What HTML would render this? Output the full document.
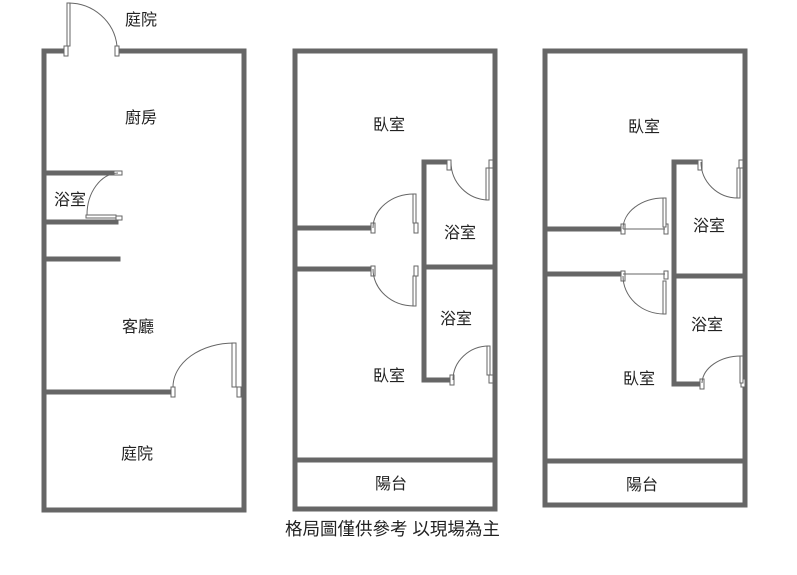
<!DOCTYPE html>
<html><head><meta charset="utf-8"><style>
html,body{margin:0;padding:0;background:#fff;}
svg{display:block}
text{font-family:"Liberation Sans","Noto Sans CJK TC",sans-serif;font-size:16px;fill:#222;}
</style></head><body>
<svg width="797" height="575" viewBox="0 0 797 575" xmlns="http://www.w3.org/2000/svg">
<g stroke="#666" stroke-width="5" fill="none" stroke-linecap="square">
<path d="M44 51 H63 M120 51 H244 V510 H44 V51"/>
<path d="M44 173 H113 M44 222 H116 M44 259 H118 M44 392 H168"/>
<path d="M295 51 H495 V509 H295 Z M295 460 H495"/>
<path d="M295 228 H370 M295 269 H370"/>
<path d="M446 162 H424 V380 H449 M424 267 H495"/>
<path d="M545 51 H745 V505 H545 Z M545 461 H745"/>
<path d="M545 229 H620 M545 274 H620"/>
<path d="M697 162 H674 V384 H698 M674 276 H745"/>
</g>
<g stroke="#666" stroke-width="1" fill="#fff">
<rect x="64" y="46" width="4" height="10"/><rect x="115" y="46" width="4" height="10"/>
<rect x="67" y="3" width="3" height="43"/>
<path d="M68 3 A49 48 0 0 1 117 46" fill="none"/>
<rect x="114" y="171" width="8" height="4"/><rect x="116" y="216" width="6" height="4"/>
<rect x="86" y="215" width="30" height="3"/>
<path d="M87 215 A32 42 0 0 1 118 173" fill="none"/>
<rect x="171" y="387" width="4" height="10"/><rect x="237" y="387" width="4" height="10"/>
<rect x="232" y="343" width="4" height="44"/>
<path d="M173 387 A61 44 0 0 1 234 343" fill="none"/>
<rect x="447" y="160" width="4" height="10"/><rect x="489" y="160" width="4" height="8"/>
<rect x="486" y="168" width="3" height="32"/>
<path d="M451 162 A38 38 0 0 0 488 200" fill="none"/>
<rect x="371" y="223" width="4" height="10"/><rect x="414" y="223" width="4" height="10"/>
<rect x="413" y="194" width="3" height="29"/>
<path d="M373 228 A41 34 0 0 1 414 194" fill="none"/>
<rect x="371" y="266" width="4" height="10"/><rect x="414" y="266" width="4" height="10"/>
<rect x="413" y="276" width="3" height="30"/>
<path d="M373 269 A41 37 0 0 0 414 306" fill="none"/>
<rect x="450" y="375" width="4" height="10"/><rect x="489" y="375" width="4" height="8"/>
<rect x="487" y="346" width="3" height="29"/>
<path d="M453 380 A36 34 0 0 1 489 346" fill="none"/>
<rect x="698" y="160" width="4" height="10"/><rect x="739" y="160" width="4" height="8"/>
<rect x="737" y="168" width="3" height="30"/>
<path d="M701 162 A37 36 0 0 0 738 198" fill="none"/>
<rect x="621" y="224" width="4" height="10"/><rect x="664" y="224" width="4" height="10"/>
<rect x="663" y="198" width="3" height="29"/>
<line x1="623" y1="229" x2="665" y2="229"/>
<path d="M623 229 A41 31 0 0 1 664 198" fill="none"/>
<rect x="621" y="271" width="4" height="10"/><rect x="664" y="271" width="4" height="8"/>
<rect x="663" y="281" width="3" height="33"/>
<line x1="623" y1="274" x2="665" y2="274"/>
<path d="M623 276 A41 38 0 0 0 664 314" fill="none"/>
<rect x="700" y="379" width="4" height="10"/><rect x="741" y="379" width="4" height="8"/>
<rect x="740" y="356" width="3" height="27"/>
<path d="M702 383 A39 28 0 0 1 741 356" fill="none"/>
</g>
<text x="125" y="25">庭院</text>
<text x="125" y="123">廚房</text>
<text x="54" y="205">浴室</text>
<text x="122" y="332">客廳</text>
<text x="121" y="459">庭院</text>
<text x="373" y="130">臥室</text>
<text x="444" y="238">浴室</text>
<text x="440" y="324">浴室</text>
<text x="373" y="381">臥室</text>
<text x="375" y="489">陽台</text>
<text x="628" y="132">臥室</text>
<text x="693" y="231">浴室</text>
<text x="691" y="330">浴室</text>
<text x="623" y="384">臥室</text>
<text x="626" y="490">陽台</text>
<text x="285" y="535" style="font-size:17.5px">格局圖僅供參考 以現場為主</text>
</svg>
</body></html>
